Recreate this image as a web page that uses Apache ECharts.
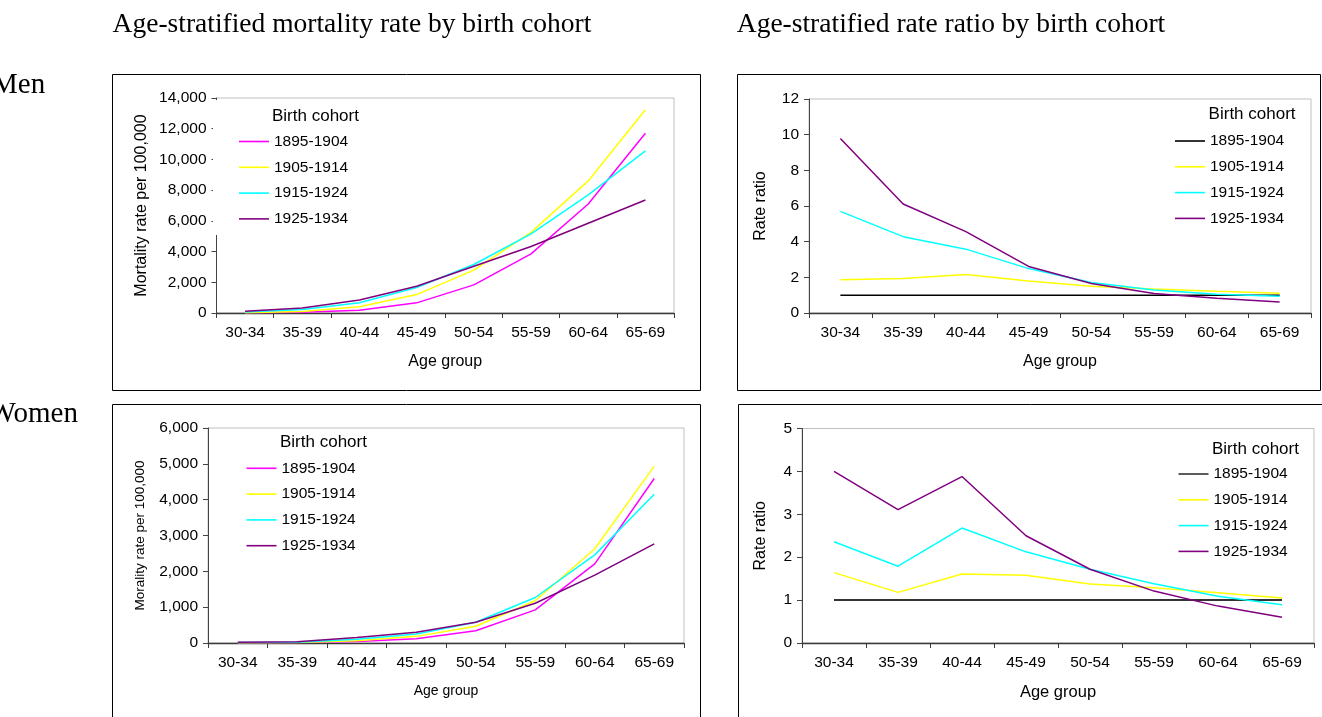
<!DOCTYPE html>
<html>
<head>
<meta charset="utf-8">
<script src="https://cdn.jsdelivr.net/npm/echarts@6/dist/echarts.min.js"></script>
<style>
html,body{margin:0;padding:0;background:#fff;}
#c{width:1322px;height:717px;}
</style>
</head>
<body>
<div id="c"></div>
<script>
// ---- data ----
const ageGroups = ['30-34','35-39','40-44','45-49','50-54','55-59','60-64','65-69'];
const cohorts = ['1895-1904','1905-1914','1915-1924','1925-1934'];

// Men: mortality rate per 100,000
const menRate1895 = [12, 54, 185, 660, 1830, 3850, 7100, 11700];
const menRate1905 = [22, 104, 400, 1200, 2790, 5250, 8600, 13240];
const menRate1915 = [68, 235, 670, 1660, 3160, 5150, 7690, 10560];
const menRate1925 = [115, 330, 850, 1740, 3040, 4330, 5840, 7360];

// Men: rate ratio
const menRatio1895 = [1, 1, 1, 1, 1, 1, 1, 1];
const menRatio1905 = [1.86, 1.93, 2.16, 1.80, 1.50, 1.35, 1.22, 1.11];
const menRatio1915 = [5.70, 4.28, 3.58, 2.49, 1.71, 1.29, 1.05, 0.94];
const menRatio1925 = [9.79, 6.11, 4.56, 2.61, 1.65, 1.09, 0.83, 0.62];

// Women: mortality rate per 100,000
const womenRate1895 = [5, 12, 40, 120, 340, 925, 2210, 4590];
const womenRate1905 = [8, 14, 64, 185, 468, 1180, 2630, 4935];
const womenRate1915 = [12, 21, 105, 250, 580, 1270, 2460, 4150];
const womenRate1925 = [20, 37, 155, 300, 580, 1110, 1895, 2765];

// Women: rate ratio
const womenRatio1895 = [1, 1, 1, 1, 1, 1, 1, 1];
const womenRatio1905 = [1.64, 1.18, 1.61, 1.58, 1.375, 1.29, 1.17, 1.05];
const womenRatio1915 = [2.36, 1.79, 2.68, 2.125, 1.72, 1.38, 1.09, 0.89];
const womenRatio1925 = [4.00, 3.11, 3.88, 2.50, 1.72, 1.21, 0.86, 0.60];

// ---- styling ----
const SANS = 'Liberation Sans, Arial, sans-serif';
const SERIF = 'Liberation Serif, Times New Roman, serif';
const fmtComma = v => Number(v).toLocaleString('en-US');

const colorsRate = ['#ff00ff', '#ffff00', '#00ffff', '#800080'];
const colorsRatioMen = ['#000000', '#ffff00', '#00ffff', '#800080'];
const colorsRatioWomen = ['#333333', '#ffff00', '#00ffff', '#800080'];

const grids = [
  {left: 216.5, top: 98, width: 457.5, height: 215},
  {left: 809, top: 99, width: 502, height: 214},
  {left: 208, top: 428, width: 476, height: 215},
  {left: 802, top: 428.5, width: 512, height: 214.5}
].map(g => Object.assign({show: true, borderColor: '#c0c0c0', borderWidth: 1, backgroundColor: 'transparent', containLabel: false}, g));

function xAxis(i, nameSize) {
  return {
    type: 'category', gridIndex: i, data: ageGroups, boundaryGap: true,
    name: 'Age group', nameLocation: 'middle', nameGap: 41,
    nameTextStyle: {fontFamily: SANS, fontSize: nameSize, color: '#000', verticalAlign: 'top'},
    axisLine: {show: true, lineStyle: {color: '#3a3a3a', width: 1.4}},
    axisTick: {show: true, alignWithLabel: false, length: 5, inside: false, lineStyle: {color: '#3a3a3a'}},
    axisLabel: {fontFamily: SANS, fontSize: 15.5, color: '#000', margin: 12},
    splitLine: {show: false}
  };
}
function yAxis(i, opts) {
  return Object.assign({
    type: 'value', gridIndex: i,
    nameLocation: 'middle', nameRotate: 90,
    nameTextStyle: {fontFamily: SANS, fontSize: 16, color: '#000'},
    axisLine: {show: true, lineStyle: {color: '#444', width: 1}},
    axisTick: {show: true, length: 5, lineStyle: {color: '#444'}},
    axisLabel: {fontFamily: SANS, fontSize: 15.5, color: '#000', margin: 10},
    splitLine: {show: false}
  }, opts);
}

function mkSeries(i, arrs, colors, widths) {
  return arrs.map((d, k) => ({
    name: cohorts[k], type: 'line', xAxisIndex: i, yAxisIndex: i,
    data: d, symbol: 'none', smooth: false,
    lineStyle: {color: colors[k], width: widths ? widths[k] : 1.5},
    itemStyle: {color: colors[k]},
    z: 2
  }));
}

function legend(left, top) {
  return {
    orient: 'vertical', left: left, top: top, padding: 0,
    itemWidth: 30, itemHeight: 1.6, itemGap: 7.8, icon: 'rect',
    textStyle: {fontFamily: SANS, fontSize: 15.5, color: '#000', lineHeight: 18},
    selectedMode: false,
    z: 6
  };
}

const series = [].concat(
  mkSeries(0, [menRate1895, menRate1905, menRate1915, menRate1925], colorsRate),
  mkSeries(1, [menRatio1895, menRatio1905, menRatio1915, menRatio1925], colorsRatioMen),
  mkSeries(2, [womenRate1895, womenRate1905, womenRate1915, womenRate1925], colorsRate),
  mkSeries(3, [womenRatio1895, womenRatio1905, womenRatio1915, womenRatio1925], colorsRatioWomen, [2, 1.5, 1.5, 1.5])
);

// Each legend has its own colours
function legendData(colors) {
  return cohorts.map((c, k) => ({name: c, itemStyle: {color: colors[k]}, textStyle: {color: '#000'}}));
}
const legends = [
  Object.assign(legend(239, 132.5), {data: legendData(colorsRate)}),
  Object.assign(legend(1175, 132), {data: legendData(colorsRatioMen)}),
  Object.assign(legend(246.5, 459.3), {data: legendData(colorsRate)}),
  Object.assign(legend(1178.5, 465), {data: legendData(colorsRatioWomen)})
];

const graphic = [
  // panel boxes
  {type: 'rect', shape: {x: 112.5, y: 74.5, width: 588, height: 316}, style: {fill: 'none', stroke: '#000', lineWidth: 1}, z: 1},
  {type: 'rect', shape: {x: 737.5, y: 74.5, width: 583, height: 316}, style: {fill: 'none', stroke: '#000', lineWidth: 1}, z: 1},
  {type: 'rect', shape: {x: 112.5, y: 404.5, width: 588, height: 330}, style: {fill: 'none', stroke: '#000', lineWidth: 1}, z: 1},
  {type: 'rect', shape: {x: 738.5, y: 404.5, width: 600, height: 330}, style: {fill: 'none', stroke: '#000', lineWidth: 1}, z: 1},
  // white legend background in men mortality panel (covers axis line)
  {type: 'rect', shape: {x: 213, y: 100, width: 160, height: 135}, style: {fill: '#fff'}, z: 3},
  // column titles
  {type: 'text', x: 352, y: 25, style: {text: 'Age-stratified mortality rate by birth cohort', font: '27.5px ' + SERIF, fill: '#000', textAlign: 'center', textVerticalAlign: 'middle'}, z: 5},
  {type: 'text', x: 951, y: 25, style: {text: 'Age-stratified rate ratio by birth cohort', font: '27.5px ' + SERIF, fill: '#000', textAlign: 'center', textVerticalAlign: 'middle'}, z: 5},
  // row labels
  {type: 'text', x: -8, y: 85, style: {text: 'Men', font: '29px ' + SERIF, fill: '#000', textAlign: 'left', textVerticalAlign: 'middle'}, z: 5},
  {type: 'text', x: -11.5, y: 414, style: {text: 'Women', font: '29px ' + SERIF, fill: '#000', textAlign: 'left', textVerticalAlign: 'middle'}, z: 5},
  // legend headers
  {type: 'text', x: 272, y: 116.7, style: {text: 'Birth cohort', font: '17px ' + SANS, fill: '#000', textAlign: 'left', textVerticalAlign: 'middle'}, z: 6},
  {type: 'text', x: 1208.6, y: 114.5, style: {text: 'Birth cohort', font: '17px ' + SANS, fill: '#000', textAlign: 'left', textVerticalAlign: 'middle'}, z: 6},
  {type: 'text', x: 280, y: 442.7, style: {text: 'Birth cohort', font: '17px ' + SANS, fill: '#000', textAlign: 'left', textVerticalAlign: 'middle'}, z: 6},
  {type: 'text', x: 1212, y: 449, style: {text: 'Birth cohort', font: '17px ' + SANS, fill: '#000', textAlign: 'left', textVerticalAlign: 'middle'}, z: 6}
];

const option = {
  animation: false,
  backgroundColor: '#fff',
  grid: grids,
  xAxis: [xAxis(0, 16), xAxis(1, 16), xAxis(2, 14), xAxis(3, 16.5)],
  yAxis: [
    yAxis(0, {min: 0, max: 14000, interval: 2000, name: 'Mortality rate per 100,000', nameGap: 67, axisLabel: {fontFamily: SANS, fontSize: 15.5, color: '#000', margin: 10, formatter: fmtComma}}),
    yAxis(1, {min: 0, max: 12, interval: 2, name: 'Rate ratio', nameGap: 40}),
    yAxis(2, {min: 0, max: 6000, interval: 1000, name: 'Morality rate per 100,000', nameGap: 61, nameTextStyle: {fontFamily: SANS, fontSize: 13.5, color: '#000'}, axisLabel: {fontFamily: SANS, fontSize: 15.5, color: '#000', margin: 10, formatter: fmtComma}}),
    yAxis(3, {min: 0, max: 5, interval: 1, name: 'Rate ratio', nameGap: 33})
  ],
  legend: legends,
  series: series,
  graphic: graphic
};

const chart = echarts.init(document.getElementById('c'), null, {renderer: 'canvas'});
chart.setOption(option);
</script>
</body>
</html>
